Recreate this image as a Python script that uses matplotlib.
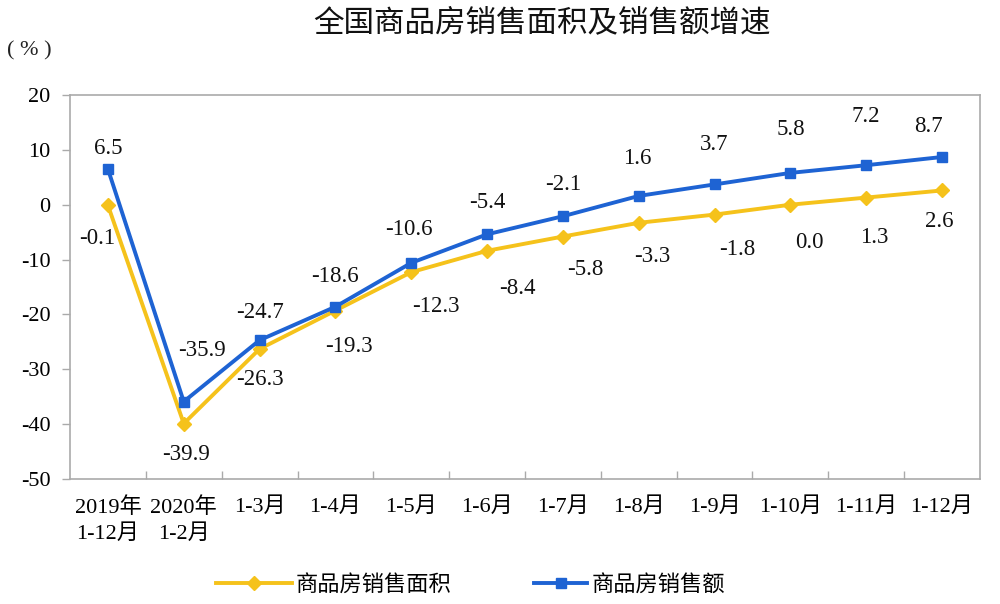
import matplotlib
matplotlib.use("Agg")
import matplotlib.pyplot as plt
from matplotlib.ticker import FixedLocator

categories = ["2019年\n1-12月", "2020年\n1-2月", "1-3月", "1-4月", "1-5月", "1-6月",
              "1-7月", "1-8月", "1-9月", "1-10月", "1-11月", "1-12月"]
area_growth = [-0.1, -39.9, -26.3, -19.3, -12.3, -8.4, -5.8, -3.3, -1.8, 0.0, 1.3, 2.6]
sales_growth = [6.5, -35.9, -24.7, -18.6, -10.6, -5.4, -2.1, 1.6, 3.7, 5.8, 7.2, 8.7]
area_label_text = ["-0.1", "-39.9", "-26.3", "-19.3", "-12.3", "-8.4", "-5.8", "-3.3",
                   "-1.8", "0.0", "1.3", "2.6"]
sales_label_text = ["6.5", "-35.9", "-24.7", "-18.6", "-10.6", "-5.4", "-2.1", "1.6",
                    "3.7", "5.8", "7.2", "8.7"]
y_ticks = [20, 10, 0, -10, -20, -30, -40, -50]
series_names = ["商品房销售面积", "商品房销售额"]
title = "全国商品房销售面积及销售额增速"

# label offsets in points (style)
area_offsets = [(-8, -24), (2, -22), (0, -22), (10, -26), (18, -25), (22, -27),
                (16, -24), (10, -24), (16, -25), (14, -27), (6, -29), (-2, -22)]
sales_offsets = [(0, 15), (13, 37), (0, 20), (0, 22), (-2, 24), (0, 23),
                 (0, 23), (-1, 27), (0, 29), (0, 31), (0, 35), (-10, 22)]

FONT = ["Liberation Serif", "Noto Sans CJK SC"]
plt.rcParams["font.family"] = FONT

YELLOW = "#F5C21B"
BLUE = "#1E63D3"

fig = plt.figure(figsize=(10, 6.04), dpi=100)
ax = fig.add_axes([0.07, 0.207, 0.91, 0.6357])

x = list(range(len(categories)))
l1, = ax.plot(x, area_growth, color=YELLOW, lw=2.8, marker="D", ms=7, label=series_names[0], zorder=3)
l2, = ax.plot(x, sales_growth, color=BLUE, lw=2.8, marker="s", ms=6.5, label=series_names[1], zorder=4)

for xi, v, t, off in zip(x, area_growth, area_label_text, area_offsets):
    ax.annotate(t, (xi, v), xytext=off, textcoords="offset points",
                ha="center", va="center", fontsize=16.5, color="#111111")
for xi, v, t, off in zip(x, sales_growth, sales_label_text, sales_offsets):
    ax.annotate(t, (xi, v), xytext=off, textcoords="offset points",
                ha="center", va="center", fontsize=16.5, color="#111111")

ax.set_xlim(-0.5, len(categories) - 0.5)
ax.set_ylim(-50, 20)
ax.set_yticks(y_ticks)
ax.set_yticklabels([str(v) for v in y_ticks], fontsize=16)
ax.set_xticks(x)
ax.set_xticklabels(categories, fontsize=16, linespacing=1.45)
ax.xaxis.set_minor_locator(FixedLocator([i + 0.5 for i in x[:-1]]))
ax.tick_params(axis="x", which="major", length=0, pad=13)
ax.tick_params(axis="x", which="minor", direction="in", length=6, color="#aaaaaa", width=1)
ax.tick_params(axis="y", direction="out", length=6, color="#aaaaaa", width=1, pad=8)

for s in ax.spines.values():
    s.set_color("#aaaaaa")
    s.set_linewidth(1.2)

fig.text(0.542, 0.962, title, ha="center", va="center", fontsize=22,
         family=["Noto Sans CJK SC", "DejaVu Sans"], color="#111111")
fig.text(0.029, 0.915, "( % )", ha="center", va="center", fontsize=16,
         family=["Liberation Serif", "DejaVu Sans"], color="#222222")

leg1 = fig.legend(handles=[l1], loc="center left", bbox_to_anchor=(0.196, 0.032), frameon=False,
                  handlelength=3.4, handletextpad=0.2,
                  prop={"family": ["Noto Sans CJK SC"], "size": 16})
leg2 = fig.legend(handles=[l2], loc="center left", bbox_to_anchor=(0.514, 0.032), frameon=False,
                  handlelength=2.4, handletextpad=0.2,
                  prop={"family": ["Noto Sans CJK SC"], "size": 16})

fig.savefig("out.png", dpi=100, facecolor="white")
